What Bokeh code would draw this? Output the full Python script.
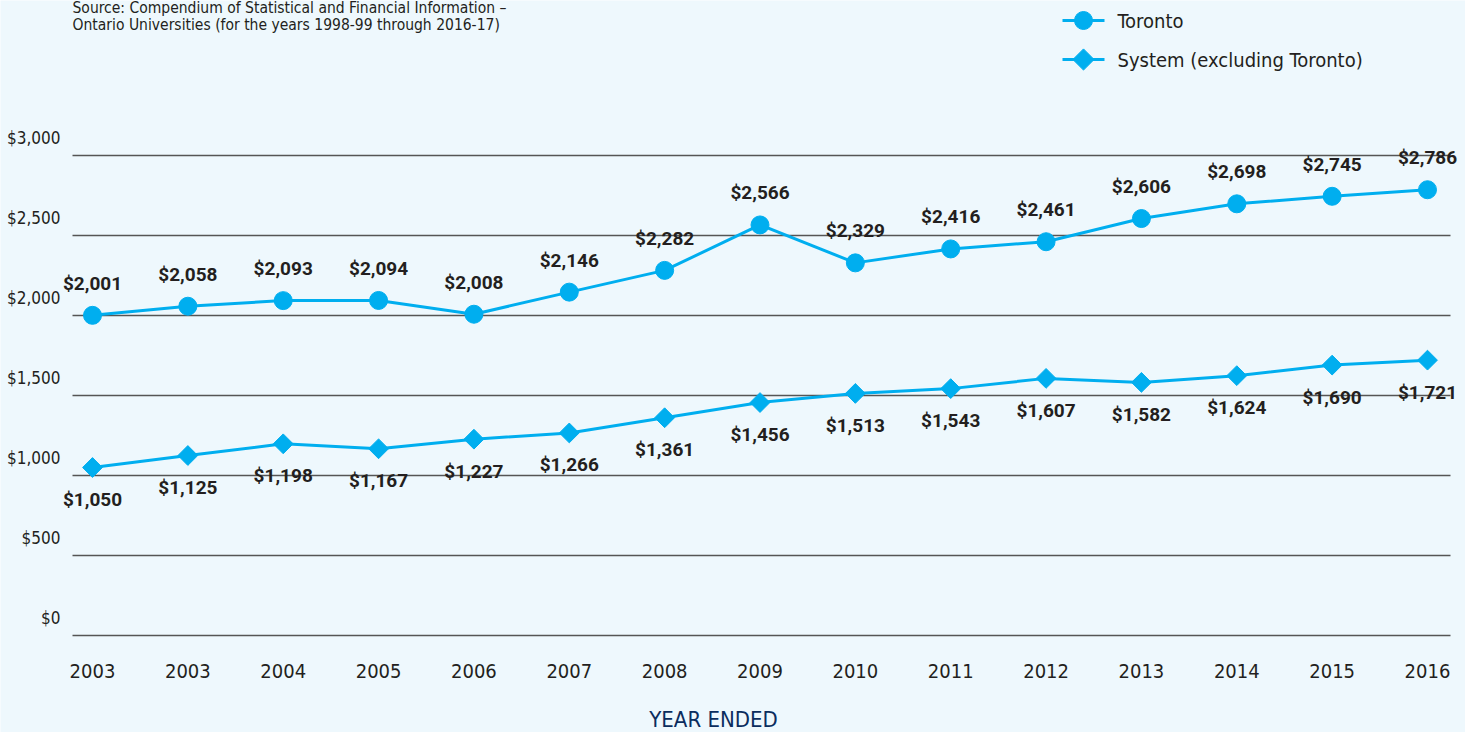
from bokeh.plotting import figure
from bokeh.models import ColumnDataSource, Range1d
from bokeh.core.properties import value
from bokeh.embed import file_html
from bokeh.resources import INLINE

# ---------------- data ----------------
years = ["2003", "2003", "2004", "2005", "2006", "2007", "2008", "2009",
         "2010", "2011", "2012", "2013", "2014", "2015", "2016"]
toronto = [2001, 2058, 2093, 2094, 2008, 2146, 2282, 2566,
           2329, 2416, 2461, 2606, 2698, 2745, 2786]
system = [1050, 1125, 1198, 1167, 1227, 1266, 1361, 1456,
          1513, 1543, 1607, 1582, 1624, 1690, 1721]
y_ticks = [0, 500, 1000, 1500, 2000, 2500, 3000]
y_tick_labels = ["$0", "$500", "$1,000", "$1,500", "$2,000", "$2,500", "$3,000"]
series_names = ["Toronto", "System (excluding Toronto)"]
source_lines = ["Source: Compendium of Statistical and Financial Information \u2013",
                "Ontario Universities (for the years 1998-99 through 2016-17)"]
x_title = "YEAR ENDED"

# ---------------- style ----------------
BG = "#eef8fd"
LINE = "#00aeef"
TEXT = "#231f20"
NAVY = "#0b2d5e"
GRID = "#555555"
FONT = "DejaVu Sans Condensed"
BOLD_FONT = "Roboto"

W, H = 1465, 732
GRID_L, GRID_R = 72, 1450                  # gridline extent in canvas px
X0PX, XSTEP = 92, (1427 - 92) / 14         # px of first point, px per category
Y0PX, PXY = 635, 0.16                      # px of $0, px per dollar


def px2x(px):
    return (px - X0PX) / XSTEP


def px2y(py):
    return (Y0PX - py) / PXY


xs = list(range(len(years)))
src = ColumnDataSource(dict(
    x=xs, toronto=toronto, system=system, zero=[0] * len(xs), year=years,
    t_lab=["${:,}".format(v) for v in toronto],
    s_lab=["${:,}".format(v) for v in system],
))
tick_src = ColumnDataSource(dict(
    y=y_ticks, label=y_tick_labels,
    x0=[px2x(GRID_L)] * len(y_ticks), x1=[px2x(GRID_R)] * len(y_ticks),
    xl=[px2x(60)] * len(y_ticks),
))

# the frame fills the whole canvas; all chart parts are placed through its scales
p = figure(width=W, height=H, output_backend="svg", toolbar_location=None,
           x_range=Range1d(px2x(0), px2x(W)),
           y_range=Range1d(px2y(H), px2y(0)),
           min_border=0)
p.background_fill_color = BG
p.border_fill_color = BG
p.outline_line_color = None
p.axis.visible = False
p.grid.visible = False

# horizontal gridlines + y tick labels (labels sit ~18px above their line)
p.segment(x0="x0", x1="x1", y0="y", y1="y", source=tick_src,
          line_color=GRID, line_width=1.5)
p.text(x="xl", y="y", text="label", source=tick_src, y_offset=-18,
       text_align="right", text_baseline="middle",
       text_font=value(FONT), text_font_size="17px", text_color=TEXT)

# x tick labels
p.text(x="x", y="zero", text="year", source=src, y_offset=35,
       text_align="center", text_baseline="middle",
       text_font=value(FONT), text_font_size="20px", text_color=TEXT)

# series
p.line("x", "toronto", source=src, line_color=LINE, line_width=3)
p.scatter("x", "toronto", source=src, marker="circle", size=18,
          fill_color=LINE, line_color=LINE)
p.line("x", "system", source=src, line_color=LINE, line_width=3)
p.scatter("x", "system", source=src, marker="square", angle=0.7853981634,
          size=14, fill_color=LINE, line_color=LINE)

# value labels
p.text("x", "toronto", text="t_lab", source=src, y_offset=-32,
       text_align="center", text_baseline="middle",
       text_font=value(BOLD_FONT), text_font_style="bold",
       text_font_size="19px", text_color=TEXT)
p.text("x", "system", text="s_lab", source=src, y_offset=32,
       text_align="center", text_baseline="middle",
       text_font=value(BOLD_FONT), text_font_style="bold",
       text_font_size="19px", text_color=TEXT)

# source note (top-left)
p.text(x=[px2x(GRID_L)] * 2, y=[px2y(7), px2y(24)], text=source_lines,
       text_align="left", text_baseline="middle",
       text_font=value(FONT), text_font_size="15.5px", text_color=TEXT)

# x title
p.text(x=[px2x(713)], y=[px2y(719)], text=[x_title],
       text_align="center", text_baseline="middle",
       text_font=value(FONT), text_font_size="22px", text_color=NAVY)

# legend (drawn by hand so the diamond keeps its rotation)
leg_y = [px2y(20), px2y(59)]
p.segment(x0=[px2x(1062)] * 2, x1=[px2x(1104)] * 2, y0=leg_y, y1=leg_y,
          line_color=LINE, line_width=3)
p.scatter(x=[px2x(1083)], y=[leg_y[0]], marker="circle", size=18,
          fill_color=LINE, line_color=LINE)
p.scatter(x=[px2x(1083)], y=[leg_y[1]], marker="square", angle=0.7853981634,
          size=15, fill_color=LINE, line_color=LINE)
p.text(x=[px2x(1117)] * 2, y=leg_y, text=series_names,
       text_align="left", text_baseline="middle",
       text_font=value(FONT), text_font_size="20px", text_color=TEXT)

open("out.html", "w").write(file_html(p, INLINE))
